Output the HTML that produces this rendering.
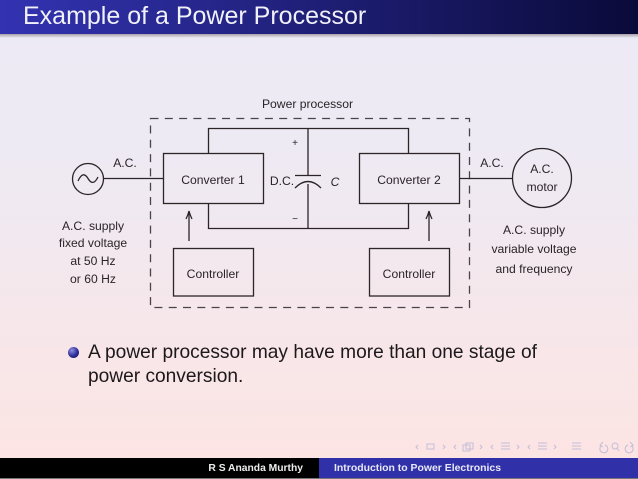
<!DOCTYPE html>
<html><head><meta charset="utf-8"><style>
html,body{margin:0;padding:0;background:#000}
#s{position:relative;width:638px;height:479px;overflow:hidden;background:linear-gradient(to bottom,#ecebf6 0%,#efe9f2 40%,#f8e6e8 75%,#fde4e2 100%);font-family:"Liberation Sans",sans-serif}
.t{position:absolute;white-space:nowrap}
</style></head><body><div id="s">
<div style="position:absolute;left:0;top:0;width:638px;height:34px;background:linear-gradient(to right,#3333b2,#0a0a3a)"></div>
<div style="position:absolute;left:0;top:34px;width:638px;height:4px;background:linear-gradient(to bottom,#a9a0a8,#ecebf6)"></div>
<div class="t" style="left:23px;top:1px;font-size:25px;line-height:31px;color:#f1f1fa">Example of a Power Processor</div>

<svg width="638" height="479" style="position:absolute;left:0;top:0" font-family="Liberation Sans, sans-serif" font-size="12.150" fill="#2a2428" text-anchor="middle">
<g fill="none" stroke="#2b2528" stroke-width="1.3">
<rect x="150.5" y="118.5" width="319" height="189" stroke-dasharray="8 6.3" stroke="#4a4448"/>
<rect x="163.5" y="153.5" width="100" height="50"/>
<rect x="359.5" y="153.5" width="100" height="50"/>
<rect x="173.5" y="248.5" width="80" height="47.5"/>
<rect x="369.5" y="248.5" width="80" height="47.5"/>
<path d="M208.5 153V128.5H408.5V153M208.5 204V228.5H408.5V204"/>
<path d="M308 128.5V175M308 184V228.5M295 175.5H321M295 188Q308 175 321 188"/>
<circle cx="88" cy="179" r="15.5"/>
<path d="M78 181Q83 170 88 178.5T98 177"/>
<path d="M103.500 178.500H163M459 178.500H512"/>
<circle cx="542" cy="178" r="29.500"/>
<path d="M189 241V212M429 241V212"/>
<path d="M186 219Q188 215 189 211Q190 215 192 219M426 219Q428 215 429 211Q430 215 432 219"/>
</g>
<text x="307.500" y="108">Power processor</text>
<text x="125" y="167">A.C.</text>
<text x="492" y="167">A.C.</text>
<text x="213" y="184">Converter 1</text>
<text x="409" y="184">Converter 2</text>
<text x="213" y="278">Controller</text>
<text x="409" y="278">Controller</text>
<text x="282" y="185">D.C.</text>
<text x="335" y="186" font-style="italic">C</text>
<text x="295" y="146" font-size="10">+</text>
<text x="295" y="222" font-size="10">−</text>
<text x="542" y="173">A.C.</text>
<text x="542" y="191">motor</text>
<text x="93" y="230">A.C. supply</text>
<text x="93" y="247">fixed voltage</text>
<text x="93" y="265">at 50 Hz</text>
<text x="93" y="283">or 60 Hz</text>
<text x="534" y="234">A.C. supply</text>
<text x="534" y="253">variable voltage</text>
<text x="534" y="273">and frequency</text>
</svg>

<div style="position:absolute;left:68px;top:347px;width:11px;height:11px;border-radius:50%;background:radial-gradient(circle at 35% 30%,#8f8fe0,#2c2c98 55%,#12124a)"></div>
<div class="t" style="left:88px;top:341px;font-size:19.15px;line-height:24px;color:#1c181b">A power processor may have more than one stage of<br>power conversion.</div>

<svg width="238" height="14" viewBox="0 0 238 14" style="position:absolute;left:400px;top:440px" fill="none" stroke="#c4bdd8" stroke-width="1">
<rect x="27" y="4" width="7" height="5"/>
<rect x="63" y="5" width="7" height="6"/><rect x="66" y="3" width="7" height="6"/>
<path d="M18 5l-2 2 2 2M43 5l2 2-2 2M56 5l-2 2 2 2M80 5l2 2-2 2M93 5l-2 2 2 2M117 5l2 2-2 2M130 5l-2 2 2 2M154 5l2 2-2 2M101 3h9M101 6h9M101 9h9M138 3h9M138 6h9M138 9h9M172 3h9M172 6h9M172 9h9"/>
<path d="M201 6a4 4 0 1 0 4 -1M203 2l-3 3 3 2"/>
<circle cx="215" cy="6" r="3"/><path d="M217 8l2 3"/>
<path d="M232 6a4 4 0 1 1 -4 -1M230 2l3 3-3 2"/>
</svg>

<div style="position:absolute;left:0;top:458px;width:319px;height:20px;background:#000"></div>
<div style="position:absolute;left:319px;top:458px;width:319px;height:20px;background:#3030a8"></div>
<div style="position:absolute;left:0;top:478px;width:638px;height:1px;background:#777"></div>
<div class="t" style="right:335px;top:459px;font-size:10.3px;line-height:19px;font-weight:bold;color:#eee">R S Ananda Murthy</div>
<div class="t" style="left:334px;top:459px;font-size:10.45px;line-height:19px;font-weight:bold;color:#e8e8f8">Introduction to Power Electronics</div>
</div></body></html>
